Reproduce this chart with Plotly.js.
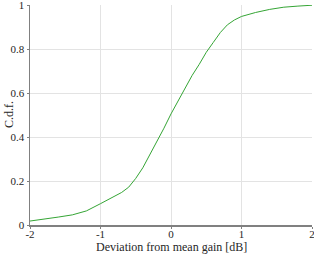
<!DOCTYPE html>
<html><head><meta charset="utf-8">
<script src="https://cdn.plot.ly/plotly-3.0.1.min.js"></script>
<style>html,body{margin:0;padding:0;background:#fff}#c{width:314px;height:256px}</style>
</head><body><div id="c"></div>
<script>
const deviation = [-2.0,-1.8,-1.6,-1.4,-1.2,-1.0,-0.9,-0.8,-0.7,-0.6,-0.5,-0.4,-0.3,-0.2,-0.1,0.0,0.1,0.2,0.3,0.4,0.5,0.6,0.7,0.8,0.9,1.0,1.2,1.4,1.6,1.8,2.0];
const cdf = [0.018,0.026,0.036,0.046,0.064,0.097,0.113,0.130,0.148,0.172,0.212,0.260,0.320,0.375,0.440,0.505,0.565,0.625,0.680,0.730,0.785,0.830,0.875,0.910,0.932,0.948,0.966,0.980,0.990,0.995,0.999];
const xTicks = [-2,-1,0,1,2];
const yTicks = [0,0.2,0.4,0.6,0.8,1];
const yTickText = ['0','0.2','0.4','0.6','0.8','1'];
const xTitle = 'Deviation from mean gain [dB]';
const yTitle = 'C.d.f.';

const fam = '"Liberation Serif", "Times New Roman", serif';
const font = {family:fam, size:11, color:'#262626'};
const axisCommon = {showgrid:true, gridcolor:'#e3e3e3', gridwidth:1, zeroline:false, showline:true,
  linecolor:'#808080', linewidth:1.5, ticks:'outside', ticklen:2, tickcolor:'#808080', tickfont:font,
  ticklabeloverflow:'allow', automargin:false};
Plotly.newPlot('c', [{
  x: deviation, y: cdf, type:'scatter', mode:'lines',
  line:{color:'#35a535', width:1}
}], {
  width:314, height:256,
  margin:{l:30, r:2, t:5, b:31},
  paper_bgcolor:'#fff', plot_bgcolor:'#fff',
  showlegend:false,
  font: font,
  xaxis:Object.assign({range:[-2,2], tickvals:xTicks, ticktext:xTicks.map(String), ticklabelstandoff:-4}, axisCommon),
  yaxis:Object.assign({range:[0,1], tickvals:yTicks, ticktext:yTickText}, axisCommon),
  annotations:[
    {text:xTitle, xref:'paper', yref:'paper', x:0.5, y:0, yshift:-22, xanchor:'center', yanchor:'middle', showarrow:false,
     font:{family:fam, size:12, color:'#262626'}},
    {text:yTitle, xref:'paper', yref:'paper', x:0, y:0.5, xshift:-21, textangle:-90, xanchor:'center', yanchor:'middle', showarrow:false,
     font:{family:fam, size:12, color:'#262626'}}
  ]
}, {staticPlot:true, displayModeBar:false});
</script></body></html>
